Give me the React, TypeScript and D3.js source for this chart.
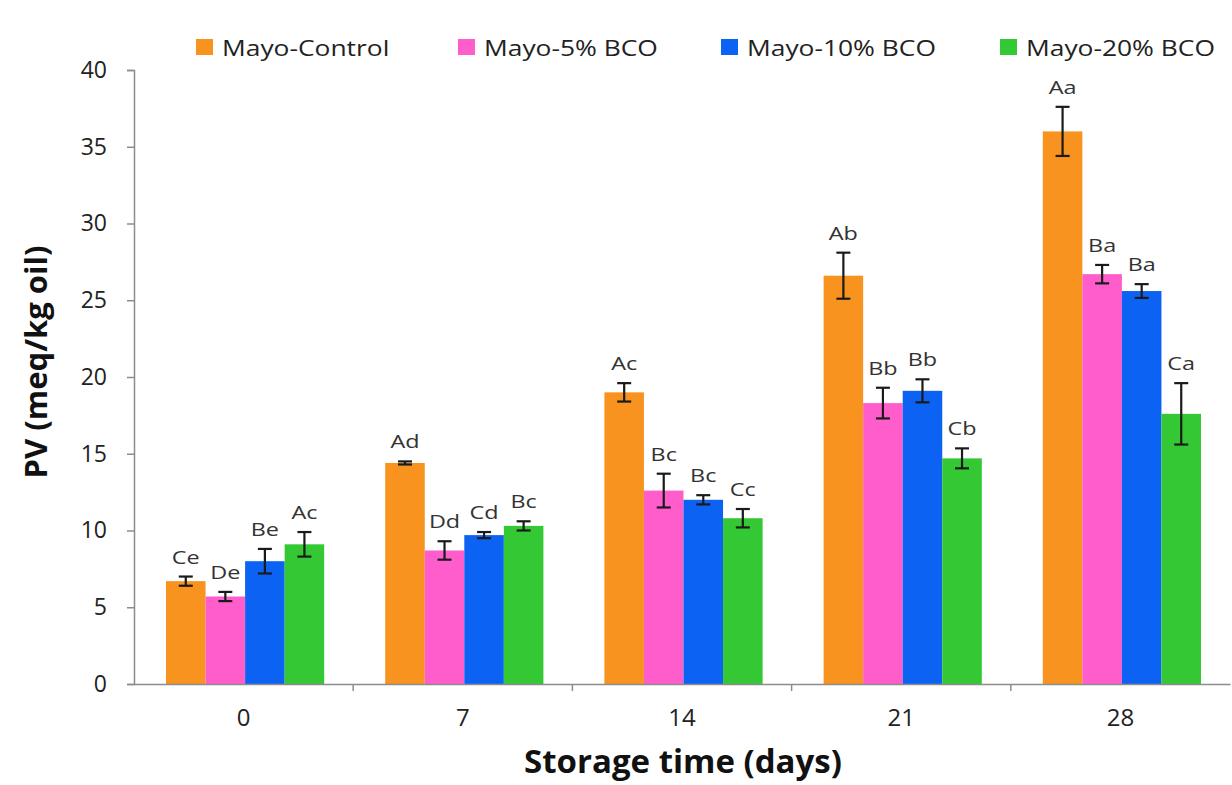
import { useEffect, useRef } from "react";
import { select, scaleLinear, scaleBand, axisLeft, axisBottom } from "d3";

const days = ["0", "7", "14", "21", "28"];
const seriesNames = ["Mayo-Control", "Mayo-5% BCO", "Mayo-10% BCO", "Mayo-20% BCO"];
const colors = ["#f7931e", "#ff5dcc", "#0c62f2", "#34c934"];

// mean values per series, one per storage day
const control = [6.7, 14.4, 19.0, 26.6, 36.0];
const bco5 = [5.7, 8.7, 12.6, 18.3, 26.7];
const bco10 = [8.0, 9.7, 12.0, 19.1, 25.6];
const bco20 = [9.1, 10.3, 10.8, 14.7, 17.6];

// error bar half widths
const controlErr = [0.3, 0.1, 0.6, 1.5, 1.6];
const bco5Err = [0.3, 0.6, 1.1, 1.0, 0.6];
const bco10Err = [0.8, 0.2, 0.3, 0.75, 0.45];
const bco20Err = [0.8, 0.3, 0.6, 0.65, 2.0];

// significance letters
const controlLbl = ["Ce", "Ad", "Ac", "Ab", "Aa"];
const bco5Lbl = ["De", "Dd", "Bc", "Bb", "Ba"];
const bco10Lbl = ["Be", "Cd", "Bc", "Bb", "Ba"];
const bco20Lbl = ["Ac", "Bc", "Cc", "Cb", "Ca"];

const yTicks = [0, 5, 10, 15, 20, 25, 30, 35, 40];

const W = 1232;
const H = 785;
const FONT = "'Open Sans', 'Noto Sans', sans-serif";
const SX = 1.3; // the small labels in the original are drawn wide
const LEG_SX = 1.2;

const App = () => {
  const ref = useRef<SVGSVGElement>(null);

  useEffect(() => {
    const svg = select(ref.current);
    svg.selectAll("*").remove();

    const marginLeft = 134,
      marginRight = 2,
      marginTop = 70,
      marginBottom = 101;

    const values = [control, bco5, bco10, bco20];
    const errs = [controlErr, bco5Err, bco10Err, bco20Err];
    const lbls = [controlLbl, bco5Lbl, bco10Lbl, bco20Lbl];

    const y = scaleLinear([0, 40], [H - marginBottom, marginTop]);
    const x = scaleBand(days, [marginLeft, W - marginRight]).paddingInner(0).paddingOuter(0);
    const inner = scaleBand(seriesNames, [32, x.bandwidth() - 29]);

    // bars
    seriesNames.forEach((s, si) => {
      svg
        .append("g")
        .selectAll("rect")
        .data(values[si])
        .enter()
        .append("rect")
        .attr("x", (d, i) => (x(days[i]) as number) + (inner(s) as number))
        .attr("y", (d) => y(d))
        .attr("width", inner.bandwidth())
        .attr("height", (d) => y(0) - y(d))
        .attr("fill", colors[si]);
    });

    // error bars + letters
    seriesNames.forEach((s, si) => {
      const eb = svg.append("g").attr("stroke", "#1a1a1a").attr("stroke-width", 2.2);
      values[si].forEach((v, i) => {
        const cx = (x(days[i]) as number) + (inner(s) as number) + inner.bandwidth() / 2;
        const e = errs[si][i];
        eb.append("line").attr("x1", cx).attr("x2", cx).attr("y1", y(v + e)).attr("y2", y(v - e));
        eb.append("line").attr("x1", cx - 7).attr("x2", cx + 7).attr("y1", y(v + e)).attr("y2", y(v + e));
        eb.append("line").attr("x1", cx - 7).attr("x2", cx + 7).attr("y1", y(v - e)).attr("y2", y(v - e));
        svg
          .append("text")
          .attr("transform", `translate(${cx},${y(v + e) - 13}) scale(${SX},1)`)
          .attr("text-anchor", "middle")
          .attr("font-family", FONT)
          .attr("font-size", 18)
          .attr("fill", "#333")
          .text(lbls[si][i]);
      });
    });

    // y axis
    const ya = svg
      .append("g")
      .attr("transform", `translate(${marginLeft},0)`)
      .call(axisLeft(y).tickValues(yTicks).tickSize(7).tickPadding(20));
    ya.select(".domain").attr("stroke", "#8c8c8c").attr("stroke-width", 1.5);
    ya.selectAll(".tick line").attr("stroke", "#8c8c8c").attr("stroke-width", 1.5);
    ya.selectAll(".tick text")
      .attr("font-family", FONT)
      .attr("font-size", 23)
      .attr("fill", "#222");

    // x axis
    const xa = svg
      .append("g")
      .attr("transform", `translate(0,${y(0)})`)
      .call(axisBottom(x).tickSize(0).tickPadding(25).tickSizeOuter(0));
    xa.select(".domain").attr("stroke", "#8c8c8c").attr("stroke-width", 1.5);
    xa.selectAll(".tick text")
      .attr("font-family", FONT)
      .attr("font-size", 24)
      .attr("fill", "#222");
    // boundary ticks between groups
    xa.selectAll(".sep")
      .data(days.slice(1))
      .enter()
      .append("line")
      .attr("x1", (d) => x(d) as number)
      .attr("x2", (d) => x(d) as number)
      .attr("y1", 0)
      .attr("y2", 7)
      .attr("stroke", "#8c8c8c")
      .attr("stroke-width", 1.5);

    // axis titles
    svg
      .append("text")
      .attr("transform", `translate(47,362) rotate(-90)`)
      .attr("text-anchor", "middle")
      .attr("font-family", FONT)
      .attr("font-weight", "bold")
      .attr("font-size", 31)
      .attr("fill", "#111")
      .text("PV (meq/kg oil)");
    svg
      .append("text")
      .attr("x", 683)
      .attr("y", 773)
      .attr("text-anchor", "middle")
      .attr("font-family", FONT)
      .attr("font-weight", "bold")
      .attr("font-size", 33)
      .attr("fill", "#111")
      .text("Storage time (days)");

    // legend
    const legendX = [196, 458, 721, 1000];
    const lg = svg.append("g");
    seriesNames.forEach((s, i) => {
      lg.append("rect")
        .attr("x", legendX[i])
        .attr("y", 39)
        .attr("width", 17)
        .attr("height", 16)
        .attr("fill", colors[i]);
      lg.append("text")
        .attr("transform", `translate(${legendX[i] + 26},56) scale(${LEG_SX},1)`)
        .attr("font-family", FONT)
        .attr("font-size", 22)
        .attr("fill", "#222")
        .text(s);
    });
  }, []);

  return (
    <svg
      ref={ref}
      width={W}
      height={H}
      style={{ position: "absolute", left: 0, top: 0, background: "#fff" }}
    />
  );
};

export default App;
